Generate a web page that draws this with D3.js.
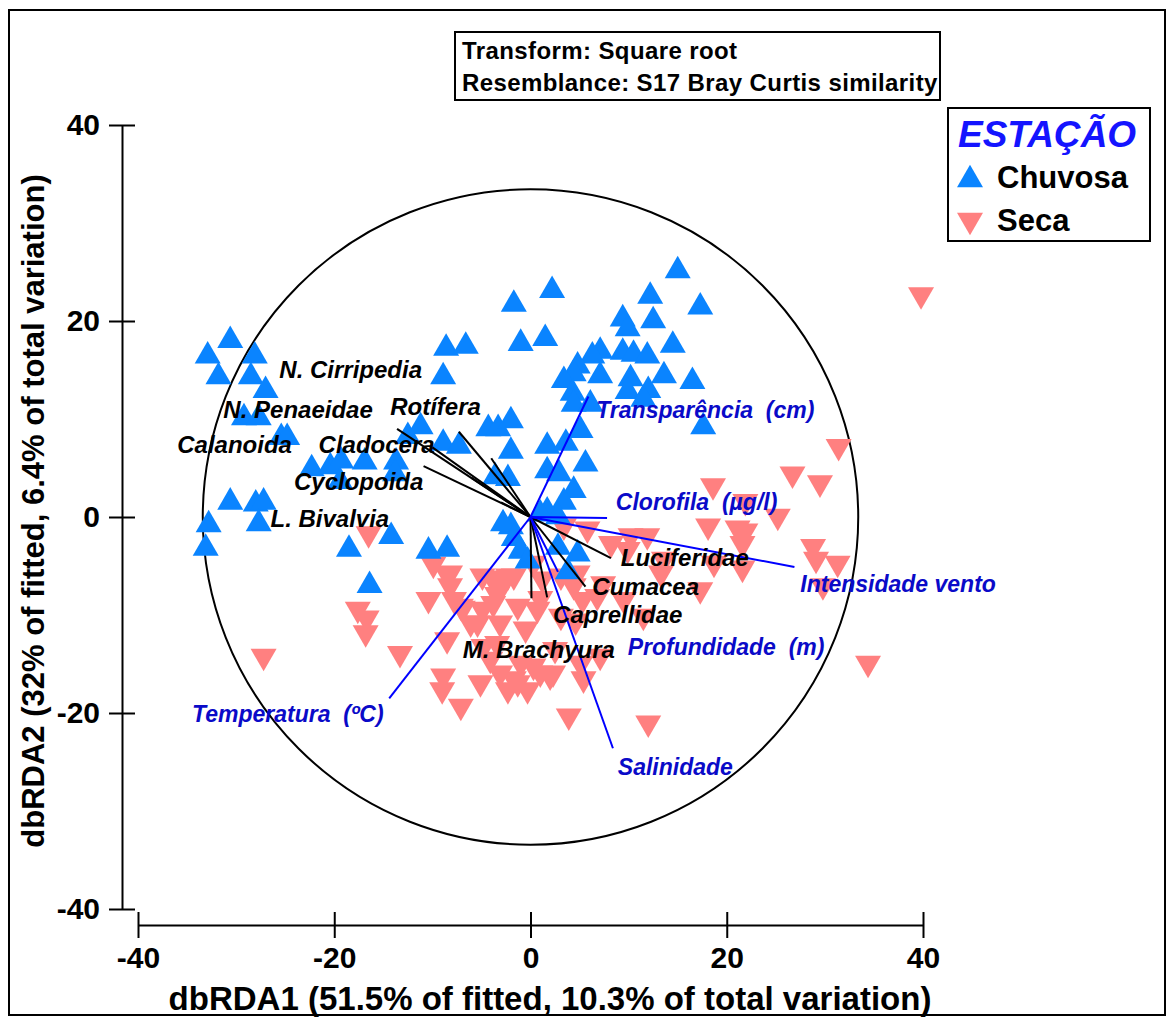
<!DOCTYPE html>
<html>
<head>
<meta charset="utf-8">
<script src="https://cdn.jsdelivr.net/npm/d3@7"></script>
<style>
  body { margin: 0; background: #fff; }
  svg { display: block; }
</style>
</head>
<body>
<svg id="chart" width="1168" height="1017"></svg>
<script>
// ---------------- DATA ----------------
const chuvosaX = [-32.9,-30.6,-31.8,-28.1,-28.5,-27.0,-29.2,-27.7,-25.4,-24.8,
  -30.6,-28.0,-27.2,-32.8,-27.7,-33.1,
  -22.3,-20.4,-19.3,-19.4,-16.9,-13.7,-13.8,-12.5,-11.2,-8.9,-7.3,
  -8.6,-6.6,-8.9,
  2.2,-1.7,-1.0,1.5,
  15.0,12.2,17.3,12.5,9.4,9.9,14.5,7.1,6.3,9.4,10.5,11.9,
  4.8,4.4,3.4,7.1,10.2,13.6,16.5,
  4.3,4.4,6.1,9.9,12.0,11.5,17.6,
  5.1,-4.3,-3.3,-2.0,-2.0,1.7,3.6,
  5.6,1.7,2.9,-3.6,-2.3,4.4,3.4,-2.0,1.7,
  -18.5,-14.2,-16.4,-10.4,-8.5,
  -2.8,-1.7,-1.0,1.0,2.8,2.8,4.8,3.8,-0.3];
const chuvosaY = [16.8,18.4,14.7,16.8,14.7,13.3,10.5,10.5,8.5,8.5,
  1.9,1.7,1.9,-0.4,-0.3,-2.8,
  5.3,5.5,6.1,4.0,6.0,6.0,4.8,8.6,9.6,7.9,7.6,
  17.6,17.8,14.7,
  23.5,22.1,18.1,18.6,
  25.5,22.9,21.8,20.4,20.6,19.6,17.9,17.3,16.8,17.2,17.0,16.8,
  15.8,15.0,14.3,14.8,14.5,14.8,14.2,
  13.0,11.9,11.9,13.2,13.3,12.4,9.6,
  9.2,9.4,9.4,10.2,7.1,7.6,7.9,
  5.8,5.1,4.8,4.5,4.3,3.1,1.9,-0.6,1.0,
  -2.9,-1.6,-6.6,-3.1,-2.9,
  -0.3,-1.8,-3.1,0.7,0.4,-2.7,-3.4,-5.2,-4.1];

const secaX = [39.8,31.4,26.7,29.5,18.6,21.9,25.2,18.1,21.1,21.9,21.6,21.6,28.8,29.1,31.3,29.8,34.4,
  18.7,17.3,13.6,11.9,10.2,8.2,5.8,3.4,9.9,13.3,6.8,9.5,11.5,7.1,5.1,3.9,12.0,
  4.4,5.3,4.8,3.1,1.2,1.0,0.3,
  -16.5,-17.6,-16.7,-16.8,-13.3,-27.2,
  -9.9,-8.5,-8.2,-10.4,-7.8,-6.9,-4.9,-3.9,-3.1,-1.7,-3.4,-4.9,-6.1,-3.1,-1.3,-0.5,
  -3.4,-4.8,-8.5,-8.9,-9.0,-7.1,-3.1,-1.7,-0.3,1.0,2.3,-1.0,5.4,2.5,-4.1,-1.3,0.3,2.0,
  -2.3,-5.1,0.7,-3.8,-7.1,-5.4,-2.3,-8.2,7.4,3.1,4.6];
const secaY = [22.3,6.8,4.0,3.1,2.8,1.2,-0.3,-1.3,-1.5,-1.8,-3.1,-5.6,-3.4,-4.7,-5.1,-7.4,-15.3,
  -5.1,-7.8,-4.7,-2.3,-2.3,-3.1,-1.6,-1.3,-3.7,-6.1,-8.5,-8.8,-10.5,-14.6,-15.3,-20.7,-21.4,
  -7.4,-8.8,-6.1,-6.4,-6.7,-8.7,-5.1,
  -2.1,-9.8,-10.7,-12.2,-14.3,-14.6,
  -5.2,-6.2,-7.4,-8.8,-8.8,-9.7,-6.4,-6.6,-7.1,-6.4,-8.3,-9.8,-11.2,-11.2,-9.5,-11.8,
  -13.3,-13.6,-12.9,-16.6,-18.0,-19.7,-16.3,-16.9,-18.0,-16.3,-16.3,-15.3,-16.9,-13.9,-14.9,-17.3,-15.6,-16.6,
  -18.0,-17.3,-9.8,-9.2,-9.5,-11.2,-6.4,-6.1,-7.2,-10.5,-11.0];

// environmental vectors (blue)
const envNames  = ["Transparência  (cm)", "Clorofila  (µg/l)", "Intensidade vento", "Profundidade  (m)", "Salinidade", "Temperatura  (ºC)"];
const envX      = [5.9, 7.8, 26.9, 2.8, 8.4, -14.4];
const envY      = [12.3, -0.1, -5.1, -5.6, -23.6, -18.5];
const envLabelX = [6.7, 8.7, 27.5, 9.9, 8.9, -34.5];
const envLabelY = [10.1, 0.7, -7.7, -14.1, -26.3, -20.9];

// species vectors (black)
const sppNames  = ["N. Cirripedia", "N. Penaeidae", "Rotífera", "Calanoida", "Cladocera", "Cyclopoida", "L. Bivalvia", "Luciferidae", "Cumacea", "Caprellidae", "M. Brachyura"];
const sppX      = [-4.0, -10.0, -7.3, -6.0, -13.6, -10.9, -3.0, 8.2, 5.6, 1.7, 0.1];
const sppY      = [6.0, 7.1, 8.7, 4.0, 9.0, 5.2, 1.5, -4.2, -7.1, -8.2, -8.3];
const sppLabelX = [-25.6, -31.3, -14.3, -36.0, -21.6, -24.1, -26.5, 9.2, 6.3, 2.3, -6.9];
const sppLabelY = [14.2, 10.1, 10.4, 6.5, 6.5, 2.8, -1.0, -5.0, -8.0, -10.8, -14.4];

const xTicks = [-40, -20, 0, 20, 40];
const yTicks = [-40, -20, 0, 20, 40];
const circleRadius = 33.4;

const xTitle = "dbRDA1 (51.5% of fitted, 10.3% of total variation)";
const yTitle = "dbRDA2 (32% of fitted, 6.4% of total variation)";
const infoLines = ["Transform: Square root", "Resemblance: S17 Bray Curtis similarity"];
const legendTitle = "ESTAÇÃO";
const seriesNames = ["Chuvosa", "Seca"];

// ---------------- DRAW ----------------
const FONT = "'Liberation Sans', Arial, Helvetica, sans-serif";
const svg = d3.select("#chart").style("font-family", FONT);

const x = d3.scaleLinear().domain([-40, 40]).range([138, 923]);
const y = d3.scaleLinear().domain([-40, 40]).range([909, 125]);

const BLUE_PT = "#0a84ff";
const RED_PT = "#ff8080";

// triangle symbols (bounding-box centred)
const triUp = { draw(ctx, size) { const w = Math.sqrt(size * 4 / Math.sqrt(3)); const h = w * Math.sqrt(3) / 2;
  ctx.moveTo(0, -h / 2); ctx.lineTo(w / 2, h / 2); ctx.lineTo(-w / 2, h / 2); ctx.closePath(); } };
const triDown = { draw(ctx, size) { const w = Math.sqrt(size * 4 / Math.sqrt(3)); const h = w * Math.sqrt(3) / 2;
  ctx.moveTo(-w / 2, -h / 2); ctx.lineTo(w / 2, -h / 2); ctx.lineTo(0, h / 2); ctx.closePath(); } };
const symSize = 26 * 26 * Math.sqrt(3) / 4;

// outer frame
svg.append("rect").attr("x", 9).attr("y", 10).attr("width", 1156).attr("height", 1005)
  .attr("fill", "none").attr("stroke", "#000").attr("stroke-width", 2);

// circle
svg.append("circle").attr("cx", x(0)).attr("cy", y(0))
  .attr("r", x(circleRadius) - x(0))
  .attr("fill", "none").attr("stroke", "#000").attr("stroke-width", 2);

// points
const seca = secaX.map((v, i) => ({ x: v, y: secaY[i] }));
const chuvosa = chuvosaX.map((v, i) => ({ x: v, y: chuvosaY[i] }));

svg.append("g").selectAll("path").data(seca).join("path")
  .attr("d", d3.symbol().type(triDown).size(symSize))
  .attr("transform", d => `translate(${x(d.x)},${y(d.y)})`)
  .attr("fill", RED_PT);

svg.append("g").selectAll("path").data(chuvosa).join("path")
  .attr("d", d3.symbol().type(triUp).size(symSize))
  .attr("transform", d => `translate(${x(d.x)},${y(d.y)})`)
  .attr("fill", BLUE_PT);

// vectors
const spp = sppNames.map((n, i) => ({ n, x: sppX[i], y: sppY[i], lx: sppLabelX[i], ly: sppLabelY[i] }));
const env = envNames.map((n, i) => ({ n, x: envX[i], y: envY[i], lx: envLabelX[i], ly: envLabelY[i] }));

svg.append("g").selectAll("line").data(spp).join("line")
  .attr("x1", x(0)).attr("y1", y(0))
  .attr("x2", d => x(d.x)).attr("y2", d => y(d.y))
  .attr("stroke", "#000").attr("stroke-width", 2);

svg.append("g").selectAll("line").data(env).join("line")
  .attr("x1", x(0)).attr("y1", y(0))
  .attr("x2", d => x(d.x)).attr("y2", d => y(d.y))
  .attr("stroke", "#0000ff").attr("stroke-width", 2);

svg.append("g").selectAll("text").data(spp).join("text")
  .attr("x", d => x(d.lx)).attr("y", d => y(d.ly))
  .attr("font-size", 24).attr("font-weight", "bold").attr("font-style", "italic")
  .attr("fill", "#000").style("white-space", "pre")
  .text(d => d.n);

svg.append("g").selectAll("text").data(env).join("text")
  .attr("x", d => x(d.lx)).attr("y", d => y(d.ly))
  .attr("font-size", 23).attr("font-weight", "bold").attr("font-style", "italic")
  .attr("fill", "#0a0ac8").style("white-space", "pre")
  .text(d => d.n);

// axes
const fmt = d => String(d);
const gy = svg.append("g").attr("transform", `translate(122,0)`)
  .call(d3.axisLeft(y).tickValues(yTicks).tickSizeInner(13).tickSizeOuter(0).tickPadding(9).tickFormat(fmt));
gy.select(".domain").attr("stroke-width", 2);
gy.selectAll(".tick line").attr("x1", 13).attr("stroke-width", 2);
gy.selectAll(".tick text").attr("font-size", 30).attr("font-weight", "bold").attr("font-family", FONT).attr("fill", "#000");

const gx = svg.append("g").attr("transform", `translate(0,925)`)
  .call(d3.axisBottom(x).tickValues(xTicks).tickSizeInner(13).tickSizeOuter(0).tickPadding(9).tickFormat(fmt));
gx.select(".domain").attr("stroke-width", 2);
gx.selectAll(".tick line").attr("y1", -13).attr("stroke-width", 2);
gx.selectAll(".tick text").attr("font-size", 30).attr("font-weight", "bold").attr("font-family", FONT).attr("fill", "#000");

// axis titles
svg.append("text").attr("x", 550).attr("y", 1010).attr("text-anchor", "middle")
  .attr("font-size", 33).attr("font-weight", "bold").text(xTitle);
svg.append("text").attr("transform", "translate(44,511) rotate(-90)").attr("text-anchor", "middle")
  .attr("font-size", 31).attr("font-weight", "bold").text(yTitle);

// info box
svg.append("rect").attr("x", 455).attr("y", 32).attr("width", 485).attr("height", 68)
  .attr("fill", "#fff").attr("stroke", "#000").attr("stroke-width", 2);
svg.append("g").selectAll("text").data(infoLines).join("text")
  .attr("x", 462).attr("y", (d, i) => 59 + i * 32)
  .attr("font-size", 24).attr("letter-spacing", 0.4).attr("font-weight", "bold").text(d => d);

// legend
const lg = svg.append("g");
lg.append("rect").attr("x", 948).attr("y", 108).attr("width", 202).attr("height", 133)
  .attr("fill", "#fff").attr("stroke", "#000").attr("stroke-width", 2);
lg.append("text").attr("x", 958).attr("y", 147).attr("font-size", 37)
  .attr("font-weight", "bold").attr("font-style", "italic").attr("fill", "#1414ff").text(legendTitle);
const legItems = [{ n: seriesNames[0], t: triUp, c: BLUE_PT, cy: 176, ty: 188 }, { n: seriesNames[1], t: triDown, c: RED_PT, cy: 224, ty: 231 }];
lg.selectAll("path").data(legItems).join("path")
  .attr("d", d => d3.symbol().type(d.t).size(symSize)())
  .attr("transform", d => `translate(970,${d.cy})`).attr("fill", d => d.c);
lg.selectAll("text.item").data(legItems).join("text").attr("class", "item")
  .attr("x", 997).attr("y", d => d.ty).attr("font-size", 31).attr("font-weight", "bold").text(d => d.n);
</script>
</body>
</html>
